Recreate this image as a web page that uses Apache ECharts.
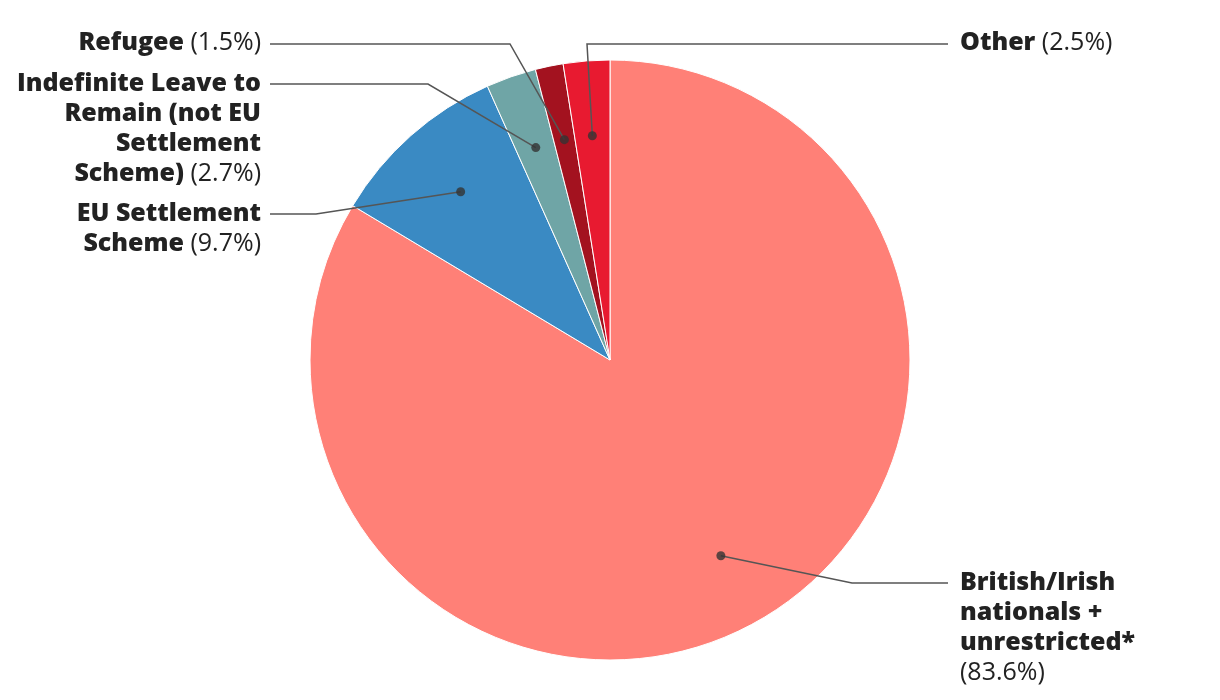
<!DOCTYPE html>
<html>
<head>
<meta charset="utf-8">
<script src="https://cdn.jsdelivr.net/npm/echarts@6/dist/echarts.min.js"></script>
<style>
  html, body { margin: 0; padding: 0; background: #fff; }
  #chart { width: 1220px; height: 700px; }
</style>
</head>
<body>
<div id="chart"></div>
<script>
// ---- data ----
const categories = [
  'British/Irish nationals + unrestricted*',
  'EU Settlement Scheme',
  'Indefinite Leave to Remain (not EU Settlement Scheme)',
  'Refugee',
  'Other'
];
const values = [83.6, 9.7, 2.7, 1.5, 2.5];
const labelNameLines = [
  ['British/Irish', 'nationals +', 'unrestricted*'],
  ['EU Settlement', 'Scheme'],
  ['Indefinite Leave to', 'Remain (not EU', 'Settlement', 'Scheme)'],
  ['Refugee'],
  ['Other']
];
const colors = ['#FF8077', '#3A8AC3', '#6FA5A6', '#A3121F', '#E81A30'];

// ---- layout (label anchors, elbows) ----
const labelLayoutCfg = [
  { side: 'right', x: 960, y: 568, elbow: [852, 583], end: [948, 583], pctNewLine: true },
  { side: 'left',  x: 261, y: 199, elbow: [316, 214], end: [270, 214], pctNewLine: false },
  { side: 'left',  x: 261, y: 69,  elbow: [428, 84],  end: [270, 84],  pctNewLine: false },
  { side: 'left',  x: 261, y: 28,  elbow: [510, 44],  end: [270, 44],  pctNewLine: false },
  { side: 'right', x: 960, y: 28,  elbow: [587, 44],  end: [948, 44],  pctNewLine: false }
];

const CENTER = [610, 360];
const R = 300;
const DOT_R = 0.75;

const total = values.reduce((a, b) => a + b, 0);
let acc = 0;
const mids = values.map(v => { const m = acc + v / 2; acc += v; return m / total * 100; });

const FONT = '"Open Sans", Lato, sans-serif';
const rich = {
  b: { fontFamily: FONT, fontWeight: 800, fontSize: 25, lineHeight: 30, color: '#222' },
  n: { fontFamily: FONT, fontWeight: 400, fontSize: 25, lineHeight: 30, color: '#222' }
};

function fmt(i) {
  const lines = labelNameLines[i].map(s => '{b|' + s + '}');
  const pct = '{n|(' + values[i].toFixed(1) + '%)}';
  if (labelLayoutCfg[i].pctNewLine) lines.push(pct);
  else lines[lines.length - 1] += '{n| }' + pct;
  return lines.join('\n');
}

const pieData = categories.map((c, i) => ({ name: c, value: values[i], itemStyle: { color: colors[i] } }));

const chart = echarts.init(document.getElementById('chart'), null, { renderer: 'canvas' });
chart.setOption({
  animation: false,
  backgroundColor: '#fff',
  polar: { center: CENTER, radius: R },
  angleAxis: { type: 'value', min: 0, max: 100, startAngle: 90, clockwise: true, show: false },
  radiusAxis: { type: 'value', min: 0, max: 1, show: false },
  series: [
    {
      type: 'pie',
      center: CENTER,
      radius: R,
      startAngle: 90,
      clockwise: true,
      silent: true,
      z: 1,
      label: { show: false },
      labelLine: { show: false },
      itemStyle: { borderColor: '#fff', borderWidth: 1 },
      data: pieData
    },
    {
      type: 'pie',
      center: CENTER,
      radius: R * DOT_R,
      startAngle: 90,
      clockwise: true,
      silent: true,
      z: 3,
      avoidLabelOverlap: false,
      itemStyle: { color: 'rgba(0,0,0,0)', borderWidth: 0 },
      label: {
        show: true,
        position: 'outside',
        formatter: p => fmt(p.dataIndex),
        rich: rich
      },
      labelLine: { show: true, length: 10, length2: 10, lineStyle: { color: '#555', width: 1.5 } },
      labelLayout: function (params) {
        const i = params.dataIndex;
        const cfg = labelLayoutCfg[i];
        let p0 = params.labelLinePoints && params.labelLinePoints[0];
        if (!p0) p0 = chart.convertToPixel({ polarIndex: 0 }, [DOT_R, mids[i]]);
        return {
          x: cfg.x,
          y: cfg.y,
          align: cfg.side === 'left' ? 'right' : 'left',
          verticalAlign: 'top',
          labelLinePoints: [[p0[0], p0[1]], cfg.elbow, cfg.end]
        };
      },
      data: categories.map((c, i) => ({ name: c, value: values[i] }))
    },
    {
      type: 'scatter',
      coordinateSystem: 'polar',
      silent: true,
      z: 4,
      symbol: 'circle',
      symbolSize: 9,
      itemStyle: { color: '#333' },
      data: mids.map(m => [DOT_R, m])
    }
  ]
});
</script>
</body>
</html>
